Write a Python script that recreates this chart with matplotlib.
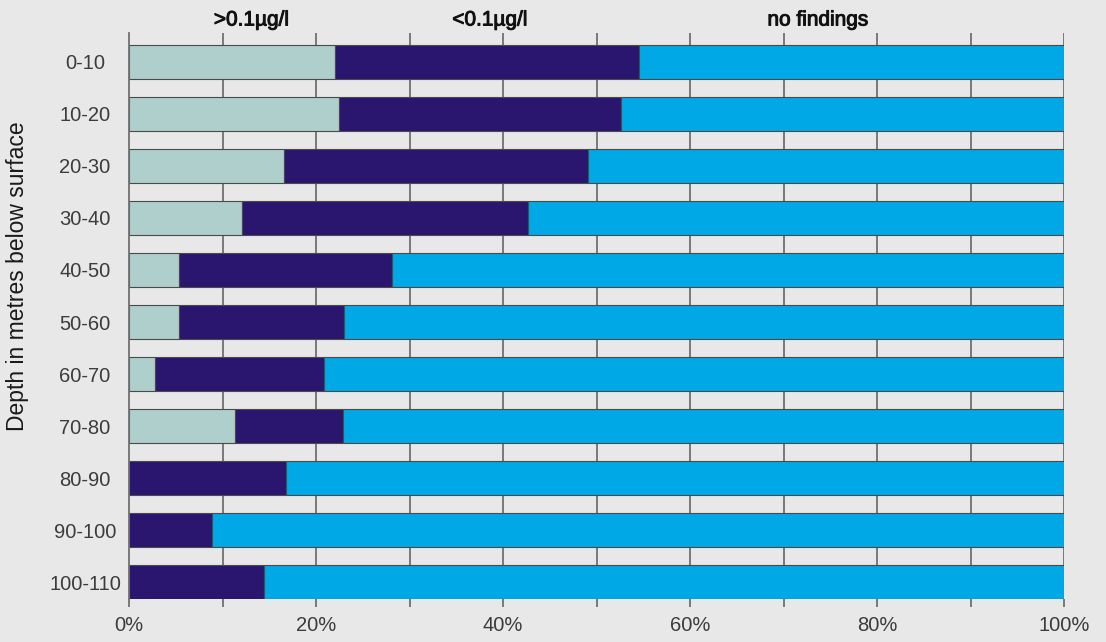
import matplotlib
matplotlib.use("Agg")
import matplotlib.pyplot as plt
import matplotlib.transforms as mtransforms
import matplotlib.patheffects as pe
import numpy as np

plt.rcParams['font.family'] = ['Liberation Sans', 'DejaVu Sans']

categories = ["0-10", "10-20", "20-30", "30-40", "40-50", "50-60",
              "60-70", "70-80", "80-90", "90-100", "100-110"]
above_01 = [22.0, 22.5, 16.6, 12.1, 5.3, 5.3, 2.8, 11.3, 0.0, 0.0, 0.0]
below_01 = [32.5, 30.1, 32.5, 30.6, 22.8, 17.7, 18.1, 11.6, 16.8, 8.9, 14.4]
series_names = [">0.1µg/l", "<0.1µg/l", "no findings"]
colors = ["#aecfcb", "#2a166e", "#00a9e6"]
label_x = [13.1, 38.6, 73.7]

above = np.array(above_01)
below = np.array(below_01)
none = 100 - above - below

W, H = 1106, 642
fig = plt.figure(figsize=(W / 100, H / 100), dpi=100)
bg = "#e8e8e8"
fig.patch.set_facecolor(bg)
ax = fig.add_axes([129 / W, 1 - 599 / H, (1064 - 129) / W, (599 - 33) / H])
ax.set_facecolor(bg)

y = np.arange(len(categories))
bh = 0.65
ax.barh(y, above, height=bh, color=colors[0], edgecolor="#4a4a4a", linewidth=0.8, zorder=3)
ax.barh(y, below, left=above, height=bh, color=colors[1], edgecolor="#4a4a4a", linewidth=0.8, zorder=3)
ax.barh(y, none, left=above + below, height=bh, color=colors[2], edgecolor="#4a4a4a", linewidth=0.8, zorder=3)

ax.set_xlim(0, 100)
ax.set_ylim(len(categories) - 1 + 0.326, -0.557)

ax.set_xticks(np.arange(0, 101, 20))
ax.set_xticklabels([f"{v}%" for v in range(0, 101, 20)])
ax.set_xticks(np.arange(10, 100, 20), minor=True)
ax.tick_params(axis='x', which='both', length=6, width=1.3, color="#707070",
               direction='out', labelsize=14.5, labelcolor="#3c3c3c", pad=6)
for xv in range(10, 101, 10):
    ax.axvline(xv, color="#707070", linewidth=1.3, zorder=1)

ax.set_yticks(y)
ax.set_yticklabels(categories)
ax.tick_params(axis='y', length=0, labelsize=14.5, labelcolor="#3c3c3c", pad=31.7)
for lab in ax.get_yticklabels():
    lab.set_horizontalalignment('center')

for side in ['top', 'right', 'bottom']:
    ax.spines[side].set_visible(False)
ax.spines['left'].set_color("#707070")
ax.spines['left'].set_linewidth(1.3)
ax.spines['left'].set_zorder(4)

trans = mtransforms.blended_transform_factory(ax.transData, ax.transAxes)
for name, xv in zip(series_names, label_x):
    ax.text(xv, 1 + 13 / 566, name, transform=trans, ha='center', va='center',
            fontsize=15, color="#111111",
            path_effects=[pe.withStroke(linewidth=0.7, foreground="#111111")])

fig.text(18 / W, 1 - 276 / H, "Depth in metres below surface", rotation=90,
         ha='center', va='center', fontsize=16.5, color="#1a1a1a")

fig.savefig("out.png", dpi=100, facecolor=bg)
